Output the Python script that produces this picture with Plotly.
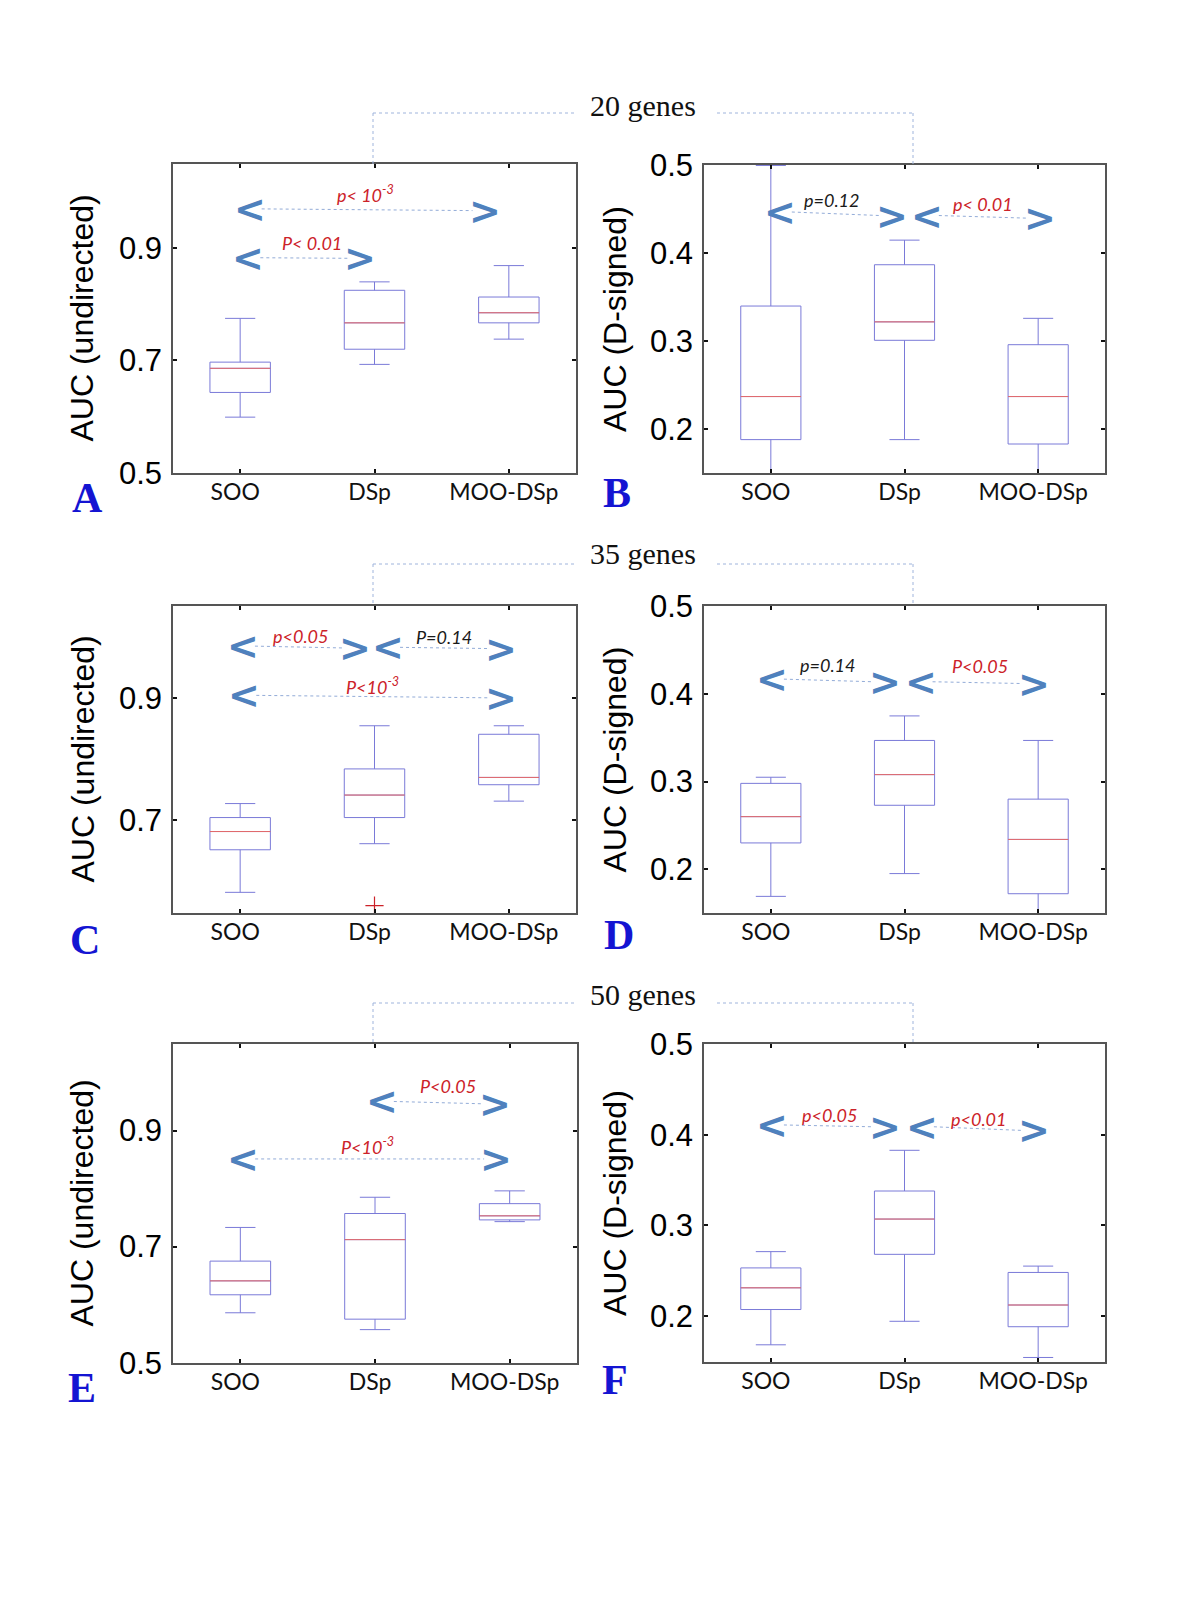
import plotly.graph_objects as go

W, H = 1200, 1600

categories = ["SOO", "DSp", "MOO-DSp"]

# ---- Panel A: 20 genes, AUC (undirected)
A_lower = [0.599, 0.693, 0.738]
A_q1 = [0.643, 0.720, 0.767]
A_med = [0.686, 0.767, 0.785]
A_q3 = [0.697, 0.825, 0.813]
A_upper = [0.775, 0.840, 0.869]

# ---- Panel B: 20 genes, AUC (D-signed)
B_lower = [0.140, 0.188, 0.140]
B_q1 = [0.188, 0.301, 0.183]
B_med = [0.237, 0.322, 0.237]
B_q3 = [0.340, 0.387, 0.296]
B_upper = [0.500, 0.415, 0.326]

# ---- Panel C: 35 genes, AUC (undirected)
C_lower = [0.581, 0.661, 0.731]
C_q1 = [0.651, 0.704, 0.758]
C_med = [0.681, 0.741, 0.770]
C_q3 = [0.704, 0.784, 0.841]
C_upper = [0.727, 0.855, 0.855]
C_outlier_x = [1]
C_outlier_y = [0.559]

# ---- Panel D: 35 genes, AUC (D-signed)
D_lower = [0.169, 0.195, 0.148]
D_q1 = [0.230, 0.273, 0.172]
D_med = [0.260, 0.308, 0.234]
D_q3 = [0.298, 0.347, 0.280]
D_upper = [0.305, 0.375, 0.347]

# ---- Panel E: 50 genes, AUC (undirected)
E_lower = [0.586, 0.557, 0.743]
E_q1 = [0.617, 0.575, 0.746]
E_med = [0.641, 0.712, 0.753]
E_q3 = [0.675, 0.757, 0.774]
E_upper = [0.733, 0.785, 0.796]

# ---- Panel F: 50 genes, AUC (D-signed)
F_lower = [0.168, 0.194, 0.154]
F_q1 = [0.207, 0.268, 0.188]
F_med = [0.231, 0.307, 0.212]
F_q3 = [0.253, 0.338, 0.248]
F_upper = [0.271, 0.383, 0.255]

panel_letters = ["A", "B", "C", "D", "E", "F"]
y_titles = ["AUC (undirected)", "AUC (D-signed)"] * 3
group_titles = ["20 genes", "35 genes", "50 genes"]

RED = "#cc2229"
BLACK = "#1a1a1a"
CHEV = "#4f81bd"
BOXC = "#7a7ad8"
MEDC = "#e46a6a"

panel_stats = [
    (A_lower, A_q1, A_med, A_q3, A_upper),
    (B_lower, B_q1, B_med, B_q3, B_upper),
    (C_lower, C_q1, C_med, C_q3, C_upper),
    (D_lower, D_q1, D_med, D_q3, D_upper),
    (E_lower, E_q1, E_med, E_q3, E_upper),
    (F_lower, F_q1, F_med, F_q3, F_upper),
]

# comparison annotations: (xl, yl, xr, yr, label, color, tx, ty)
comparisons = [
    [(0.07, 0.970, 1.82, 0.967, "p< 10<sup>-3</sup>", RED, 0.93, 0.997),
     (0.06, 0.883, 0.895, 0.882, "P< 0.01", RED, 0.537, 0.909)],
    [(0.067, 0.447, 0.905, 0.443, "p=0.12", BLACK, 0.459, 0.461),
     (1.167, 0.443, 2.013, 0.440, "p< 0.01", RED, 1.588, 0.456)],
    [(0.02, 0.986, 0.857, 0.983, "p<0.05", RED, 0.455, 1.002),
     (1.10, 0.984, 1.94, 0.982, "P=0.14", BLACK, 1.517, 1.001),
     (0.03, 0.905, 1.94, 0.901, "P<10<sup>-3</sup>", RED, 0.985, 0.921)],
    [(0.008, 0.417, 0.855, 0.414, "p=0.14", BLACK, 0.43, 0.433),
     (1.12, 0.414, 1.97, 0.412, "P<0.05", RED, 1.566, 0.432)],
    [(1.05, 0.950, 1.89, 0.946, "P<0.05", RED, 1.54, 0.977),
     (0.02, 0.851, 1.90, 0.851, "P<10<sup>-3</sup>", RED, 0.946, 0.873)],
    [(0.008, 0.411, 0.853, 0.409, "p<0.05", RED, 0.446, 0.422),
     (1.13, 0.409, 1.966, 0.405, "p<0.01", RED, 1.554, 0.418)],
]

# layout (pixel boxes)
domains = [((173, 576), (164, 473)), ((704, 1105), (165, 473)),
           ((173, 576), (606, 913)), ((704, 1105), (606, 913)),
           ((173, 577), (1044, 1363)), ((704, 1105), (1044, 1362))]
yranges = [(0.4995, 1.05), (0.15, 0.5005), (0.547, 1.052),
           (0.15, 0.5005), (0.4995, 1.049), (0.149, 0.5005)]
ydticks = [(0.5, 0.2), (0.2, 0.1)] * 3
title_x = [81, 615, 83, 615, 81, 615]
letter_pos = [(87, 498), (617, 493), (85, 940), (619, 935), (82, 1388), (615, 1380)]


def px(x):
    return x / W


def py(y):
    return 1 - y / H


fig = go.Figure()
annotations = []
shapes = []

for i in range(6):
    xa = "x" if i == 0 else f"x{i + 1}"
    ya = "y" if i == 0 else f"y{i + 1}"
    lo, q1, med, q3, up = panel_stats[i]
    fig.add_trace(go.Box(
        x=[0, 1, 2], lowerfence=lo, q1=q1, median=med, q3=q3, upperfence=up,
        width=0.45, whiskerwidth=0.5, boxpoints=False,
        line=dict(color=BOXC, width=1), fillcolor="rgba(0,0,0,0)",
        xaxis=xa, yaxis=ya, showlegend=False, hoverinfo="skip"))
    mx, my = [], []
    for k, m in enumerate(med):
        mx += [k - 0.225, k + 0.225, None]
        my += [m, m, None]
    fig.add_trace(go.Scatter(x=mx, y=my, mode="lines",
                             line=dict(color=MEDC, width=1),
                             xaxis=xa, yaxis=ya, showlegend=False, hoverinfo="skip"))
    if i == 2:
        fig.add_trace(go.Scatter(x=C_outlier_x, y=C_outlier_y, mode="markers",
                                 marker=dict(symbol="cross-thin", size=13,
                                             line=dict(color=RED, width=1.2)),
                                 xaxis=xa, yaxis=ya, showlegend=False, hoverinfo="skip"))

    # comparisons
    for (xl, yl, xr, yr, lab, col, tx, ty) in comparisons[i]:
        fig.add_trace(go.Scatter(x=[xl + 0.09, xr - 0.09], y=[yl, yr], mode="lines",
                                 line=dict(color="#93acd8", width=1, dash="dot"),
                                 xaxis=xa, yaxis=ya, showlegend=False, hoverinfo="skip"))
        for xx, yy, ch in ((xl, yl, "&lt;"), (xr, yr, "&gt;")):
            annotations.append(dict(x=xx, y=yy, xref=xa, yref=ya, text=f"<b>{ch}</b>",
                                    xanchor="center", yanchor="middle", showarrow=False,
                                    font=dict(family="DejaVu Sans", size=38, color=CHEV)))
        annotations.append(dict(x=tx, y=ty, xref=xa, yref=ya, text=f"<i>{lab}</i>",
                                xanchor="center", yanchor="middle", showarrow=False,
                                font=dict(family="Lato", size=18, color=col)))

    (x0, x1), (y0, y1) = domains[i]
    axis_common = dict(ticks="inside", ticklen=4, tickwidth=2, tickcolor="#111",
                       showline=True, linecolor="#555", linewidth=1.5, mirror="ticks",
                       showgrid=False, zeroline=False, automargin=False)
    fig.update_layout({
        ("xaxis" if i == 0 else f"xaxis{i + 1}"): dict(
            domain=[px(x0), px(x1)], range=[-0.5, 2.5], anchor=ya,
            tickvals=[0, 1, 2], ticktext=categories,
            tickfont=dict(family="Lato", size=23, color="#111"),
            ticklabelstandoff=-2, ticklabelshift=-5, **axis_common),
        ("yaxis" if i == 0 else f"yaxis{i + 1}"): dict(
            domain=[py(y1), py(y0)], range=list(yranges[i]), anchor=xa,
            tick0=ydticks[i][0], dtick=ydticks[i][1], tickformat=".1f",
            tickfont=dict(family="Liberation Sans", size=31, color="#000"),
            ticklabelstandoff=3, **axis_common),
    })

    annotations.append(dict(x=px(title_x[i]), y=py((y0 + y1) / 2), xref="paper", yref="paper",
                            text=y_titles[i], textangle=-90, showarrow=False,
                            xanchor="center", yanchor="middle",
                            font=dict(family="Liberation Sans", size=32, color="#000")))
    lx, ly = letter_pos[i]
    annotations.append(dict(x=px(lx), y=py(ly), xref="paper", yref="paper",
                            text=f"<b>{panel_letters[i]}</b>", showarrow=False,
                            xanchor="center", yanchor="middle",
                            font=dict(family="Liberation Serif", size=42, color="#1414d2")))

# group titles with dotted connectors
group_text_y = [105, 554, 995]
group_line_y = [113, 564, 1003]
group_bottom_y = [164, 606, 1044]
for g in range(3):
    annotations.append(dict(x=px(643), y=py(group_text_y[g]), xref="paper", yref="paper",
                            text=group_titles[g], showarrow=False,
                            xanchor="center", yanchor="middle",
                            font=dict(family="Liberation Serif", size=30, color="#111")))
    ly = group_line_y[g]
    by = group_bottom_y[g]
    for path in ([(574, ly), (373, ly), (373, by)], [(717, ly), (913, ly), (913, by)]):
        for (xa0, ya0), (xa1, ya1) in zip(path[:-1], path[1:]):
            shapes.append(dict(type="line", xref="paper", yref="paper",
                               x0=px(xa0), y0=py(ya0), x1=px(xa1), y1=py(ya1),
                               line=dict(color="#9fb4dc", width=1, dash="dot")))

fig.update_layout(width=W, height=H, margin=dict(l=0, r=0, t=0, b=0, autoexpand=False),
                  plot_bgcolor="white", paper_bgcolor="white",
                  annotations=annotations, shapes=shapes, showlegend=False)

fig.write_html("out.html", post_script="document.body.style.margin='0px';",
               config={"displayModeBar": False})
